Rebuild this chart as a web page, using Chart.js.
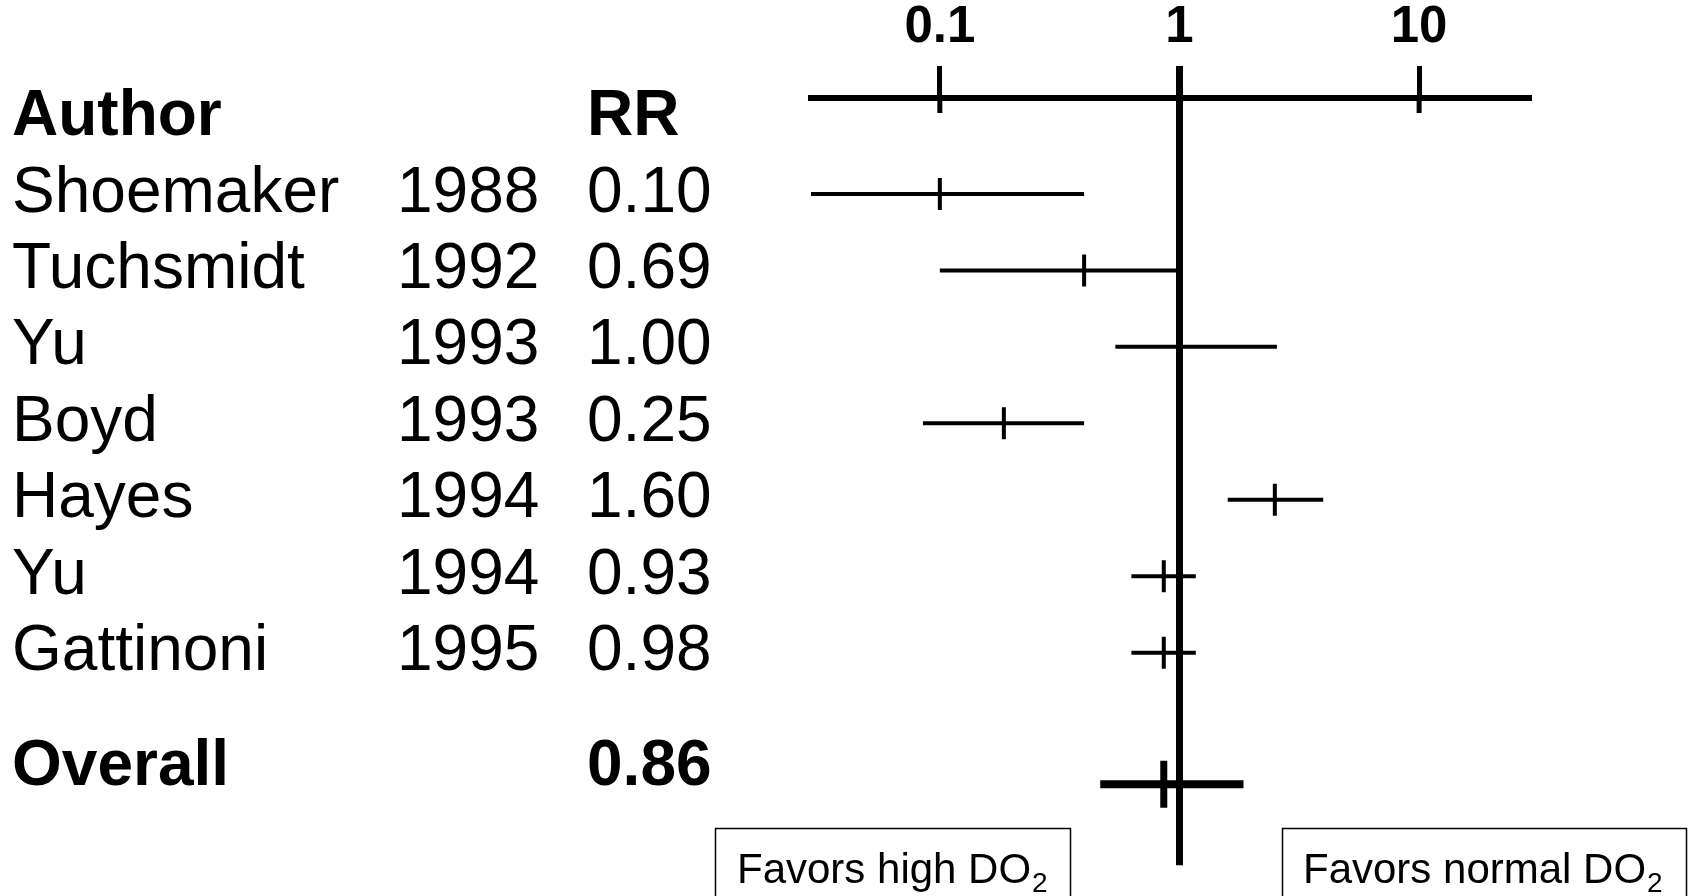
<!DOCTYPE html>
<html>
<head>
<meta charset="utf-8">
<script src="https://cdn.jsdelivr.net/npm/chart.js@4.4.0/dist/chart.umd.min.js"></script>
<style>
  html, body { margin: 0; padding: 0; background: #fff; }
  #wrap { width: 1692px; height: 896px; }
</style>
</head>
<body>
<div id="wrap"><canvas id="forest" width="1692" height="896"></canvas></div>
<script>
// study rows, top to bottom
const authors = ['Shoemaker', 'Tuchsmidt', 'Yu', 'Boyd', 'Hayes', 'Yu', 'Gattinoni'];
const years = ['1988', '1992', '1993', '1993', '1994', '1994', '1995'];
const rrText = ['0.10', '0.69', '1.00', '0.25', '1.60', '0.93', '0.98'];
// marks as drawn on the plot
const pointEst = [0.10, 0.40, 1.00, 0.185, 2.5, 0.86, 0.86];
const ciLow = [0.029, 0.10, 0.54, 0.085, 1.59, 0.63, 0.63];
const ciHigh = [0.40, 1.00, 2.55, 0.40, 3.98, 1.17, 1.17];
const overallText = '0.86';
const overallPoint = 0.86;
const overallLow = 0.467;
const overallHigh = 1.85;
const tickValues = [0.1, 1, 10];
const boxLabels = ['Favors high DO', 'Favors normal DO'];

const FONT = "'Liberation Sans', Arial, sans-serif";
const yMin = -1.255, yMax = 8.784;
const headerRow = -1, overallTextRow = 7.5, overallLineRow = 7.72;

const datasets = [];
// reference line at RR = 1
datasets.push({
    data: [{x: 1, y: yMin}, {x: 1, y: yMax}],
    showLine: true, borderColor: '#000', borderWidth: 7, pointRadius: 0
});
authors.forEach((a, i) => {
    datasets.push({
        data: [{x: ciLow[i], y: i}, {x: ciHigh[i], y: i}],
        showLine: true, borderColor: '#000', borderWidth: 4, pointRadius: 0
    });
});
datasets.push({
    data: [{x: overallLow, y: overallLineRow}, {x: overallHigh, y: overallLineRow}],
    showLine: true, borderColor: '#000', borderWidth: 8, pointRadius: 0
});
datasets.push({
    data: pointEst.map((v, i) => ({x: v, y: i})),
    pointStyle: 'line', pointRotation: 90, pointRadius: 16, pointHoverRadius: 16,
    pointBorderWidth: 4, pointBorderColor: '#000'
});
datasets.push({
    data: [{x: overallPoint, y: overallLineRow}],
    pointStyle: 'line', pointRotation: 90, pointRadius: 23.5, pointHoverRadius: 23.5,
    pointBorderWidth: 7, pointBorderColor: '#000'
});

const tablePlugin = {
    id: 'table',
    afterDraw(chart) {
        const {ctx, chartArea, scales: {x, y}} = chart;
        ctx.save();
        // tick marks continue below the axis line
        ctx.strokeStyle = '#000';
        ctx.lineWidth = 5;
        tickValues.forEach(v => {
            const px = x.getPixelForValue(v);
            ctx.beginPath();
            ctx.moveTo(px, chartArea.top);
            ctx.lineTo(px, chartArea.top + 15);
            ctx.stroke();
        });

        const colX = [12, 397, 587];
        ctx.fillStyle = '#000';
        ctx.textBaseline = 'middle';
        ctx.textAlign = 'left';

        ctx.font = 'bold 64px ' + FONT;
        let py = y.getPixelForValue(headerRow);
        ctx.fillText('Author', colX[0], py);
        ctx.fillText('RR', colX[2], py);

        ctx.font = '64px ' + FONT;
        authors.forEach((a, i) => {
            const ry = y.getPixelForValue(i);
            ctx.fillText(a, colX[0], ry);
            ctx.fillText(years[i], colX[1], ry);
            ctx.fillText(rrText[i], colX[2], ry);
        });

        ctx.font = 'bold 64px ' + FONT;
        py = y.getPixelForValue(overallTextRow);
        ctx.fillText('Overall', colX[0], py);
        ctx.fillText(overallText, colX[2], py);

        // the two boxes at the bottom
        const boxes = [[715.5, 1070.5, 737], [1282.5, 1686.5, 1303]];
        ctx.lineWidth = 1.5;
        ctx.textBaseline = 'alphabetic';
        boxes.forEach((b, i) => {
            ctx.beginPath();
            ctx.moveTo(b[0], 900);
            ctx.lineTo(b[0], 828.5);
            ctx.lineTo(b[1], 828.5);
            ctx.lineTo(b[1], 900);
            ctx.stroke();
            ctx.font = '42px ' + FONT;
            ctx.fillText(boxLabels[i], b[2], 883);
            const w = ctx.measureText(boxLabels[i]).width;
            ctx.font = '28px ' + FONT;
            ctx.fillText('2', b[2] + w + 1, 892);
        });
        ctx.restore();
    }
};

new Chart(document.getElementById('forest').getContext('2d'), {
    type: 'scatter',
    data: {datasets: datasets},
    options: {
        responsive: false,
        animation: false,
        events: [],
        layout: {padding: {left: 811, right: 161, top: 0, bottom: 30}},
        plugins: {legend: {display: false}, tooltip: {enabled: false}},
        scales: {
            x: {
                type: 'logarithmic',
                position: 'top',
                min: 0.029,
                max: 29.3,
                afterBuildTicks: scale => { scale.ticks = tickValues.map(v => ({value: v})); },
                afterFit: scale => { scale.height = 98; },
                grid: {
                    display: true,
                    drawOnChartArea: false,
                    drawTicks: true,
                    tickLength: 32,
                    tickColor: '#000',
                    tickWidth: ctx => (ctx.tick && ctx.tick.value === 1 ? 7 : 5)
                },
                border: {display: true, color: '#000', width: 6},
                ticks: {
                    color: '#000',
                    padding: 7,
                    maxRotation: 0,
                    autoSkip: false,
                    font: {family: FONT, size: 51, weight: 'bold', lineHeight: 1.2},
                    callback: v => String(v)
                }
            },
            y: {
                type: 'linear',
                display: false,
                reverse: true,
                min: yMin,
                max: yMax
            }
        }
    },
    plugins: [tablePlugin]
});
</script>
</body>
</html>
